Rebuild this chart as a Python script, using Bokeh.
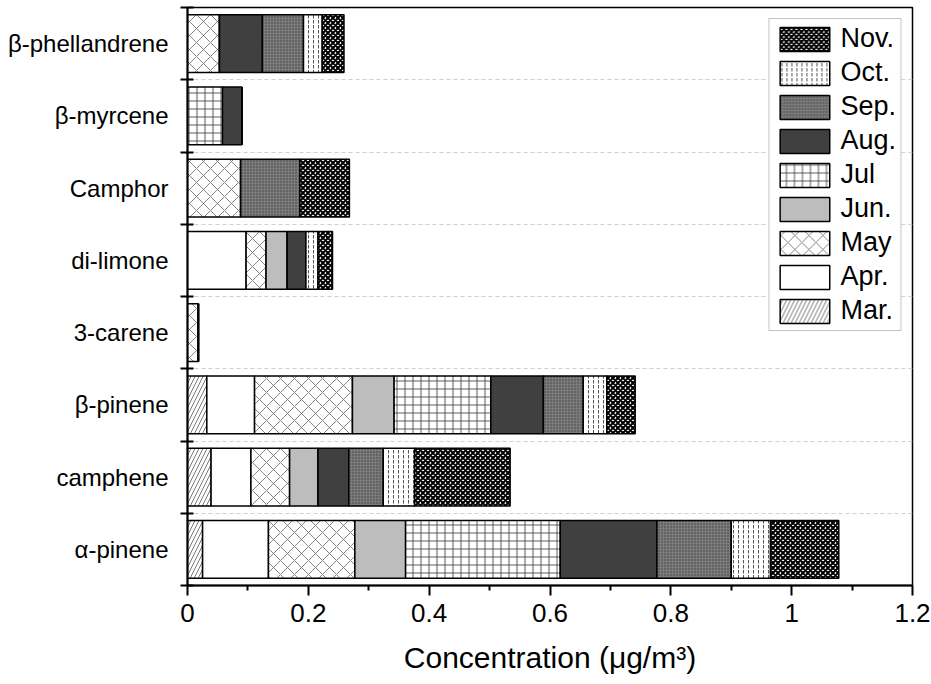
from bokeh.plotting import figure
from bokeh.models import ColumnDataSource, FixedTicker, Range1d, Legend, LegendItem
from bokeh.embed import file_html
from bokeh.resources import INLINE

# ---------------- data ----------------
categories = ["α-pinene", "camphene", "β-pinene", "3-carene",
              "di-limone", "Camphor", "β-myrcene", "β-phellandrene"]
months = ["Mar.", "Apr.", "May", "Jun.", "Jul", "Aug.", "Sep.", "Oct.", "Nov."]

mar = [0.025, 0.039, 0.032, 0.0, 0.0, 0.0, 0.0, 0.0]
apr = [0.109, 0.066, 0.079, 0.0, 0.097, 0.0, 0.0, 0.0]
may = [0.143, 0.064, 0.162, 0.018, 0.033, 0.088, 0.0, 0.053]
jun = [0.084, 0.047, 0.069, 0.0, 0.035, 0.0, 0.0, 0.0]
jul = [0.256, 0.0, 0.160, 0.0, 0.0, 0.0, 0.058, 0.0]
aug = [0.160, 0.051, 0.087, 0.0, 0.031, 0.0, 0.032, 0.071]
sep = [0.123, 0.057, 0.066, 0.0, 0.0, 0.098, 0.0, 0.068]
oct_ = [0.065, 0.052, 0.039, 0.0, 0.020, 0.0, 0.0, 0.031]
nov = [0.113, 0.158, 0.047, 0.0, 0.024, 0.082, 0.0, 0.036]
series = [mar, apr, may, jun, jul, aug, sep, oct_, nov]

x_ticks = [0, 0.2, 0.4, 0.6, 0.8, 1.0, 1.2]
x_tick_labels = ["0", "0.2", "0.4", "0.6", "0.8", "1", "1.2"]
x_minor = [0.1, 0.3, 0.5, 0.7, 0.9, 1.1]

# ---------------- styles ----------------
FONT = "Liberation Sans"
fills = ["white", "white", "white", "#bdbdbd", "white", "#404040", "#7c7c7c", "white", "white"]
patterns = ["/", " ", "x", " ", "+", " ", ".", ":", "x"]
hcolors = ["#555555", "#555555", "#666666", "#555555", "#333333", "#555555", "#3a3a3a", "#555555", "black"]
hscales = [8, 8, 14, 8, 8, 8, 3, 5, 5]
hweights = [0.8, 0.8, 0.8, 0.8, 0.8, 0.8, 1.0, 1.0, 2.0]

ypos = [i + 0.5 for i in range(len(categories))]
data = {"y": ypos}
for m, s in zip(months, series):
    data[m] = s
source = ColumnDataSource(data)

p = figure(width=931, height=684, output_backend="svg", toolbar_location=None,
           x_range=Range1d(0, 1.2), y_range=Range1d(0, len(categories)),
           min_border_left=187, min_border_right=19, min_border_top=7, min_border_bottom=99)

renderers = p.hbar_stack(months, y="y", height=0.8, source=source,
                         fill_color=fills, hatch_pattern=patterns, hatch_color=hcolors,
                         hatch_scale=hscales, hatch_weight=hweights,
                         line_color="black", line_width=1.5)

legend = Legend(items=[LegendItem(label=m, renderers=[r]) for m, r in
                       reversed(list(zip(months, renderers)))],
                location="top_right")
legend.label_text_font = FONT
legend.label_text_font_size = "27px"
legend.label_text_color = "black"
legend.glyph_width = 62
legend.glyph_height = 30
legend.label_height = 30
legend.spacing = 3
legend.padding = 4
legend.margin = 11
legend.label_standoff = 5
legend.border_line_color = "#888888"
legend.border_line_width = 1
legend.background_fill_alpha = 1
p.add_layout(legend)

# x axis
p.xaxis.ticker = FixedTicker(ticks=x_ticks, minor_ticks=x_minor)
p.xaxis.major_label_overrides = {t: l for t, l in zip(x_ticks, x_tick_labels)}
p.xaxis.axis_label = "Concentration (μg/m³)"
p.xaxis.axis_label_text_font = FONT
p.xaxis.axis_label_text_font_size = "30px"
p.xaxis.axis_label_text_font_style = "normal"
p.xaxis.axis_label_text_color = "black"
p.xaxis.axis_label_standoff = 16
p.xaxis.major_label_text_font = FONT
p.xaxis.major_label_text_font_size = "26px"
p.xaxis.major_label_text_color = "black"
p.xaxis.major_label_standoff = 8
p.xaxis.major_tick_in = 0
p.xaxis.major_tick_out = 10
p.xaxis.minor_tick_in = 0
p.xaxis.minor_tick_out = 5
p.xaxis.axis_line_width = 2
p.xaxis.major_tick_line_width = 2
p.xaxis.minor_tick_line_width = 2

# y axis: labels at category centres, ticks at boundaries
yt = FixedTicker(ticks=ypos, minor_ticks=list(range(len(categories) + 1)))
p.yaxis.ticker = yt
p.yaxis.major_label_overrides = {y: c for y, c in zip(ypos, categories)}
p.yaxis.major_label_text_font = FONT
p.yaxis.major_label_text_font_size = "24px"
p.yaxis.major_label_text_color = "black"
p.yaxis.major_label_standoff = 12
p.yaxis.major_tick_in = 0
p.yaxis.major_tick_out = 0
p.yaxis.minor_tick_in = 6
p.yaxis.minor_tick_out = 7
p.yaxis.minor_tick_line_width = 2
p.yaxis.axis_line_width = 2

p.xgrid.grid_line_color = None
p.ygrid.ticker = yt
p.ygrid.grid_line_color = None
p.ygrid.minor_grid_line_color = "#cfcfcf"
p.ygrid.minor_grid_line_dash = "4 3"
p.ygrid.minor_grid_line_width = 1

p.outline_line_color = "black"
p.outline_line_width = 1.5
p.background_fill_color = "white"
p.border_fill_color = "white"

open("out.html", "w").write(file_html(p, INLINE))
